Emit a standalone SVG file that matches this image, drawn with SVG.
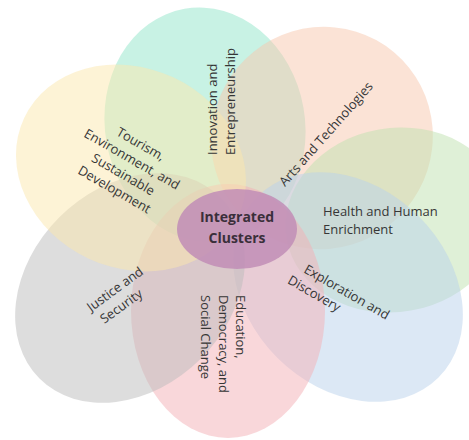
<svg xmlns="http://www.w3.org/2000/svg" width="469" height="440" viewBox="0 0 469 440">
<style>
.petal{opacity:0.5}
.lbl{font-family:"Open Sans","Liberation Sans",sans-serif;font-size:13px;fill:#363636}
.ctr{font-family:"Open Sans","Liberation Sans",sans-serif;font-size:14px;font-weight:bold;fill:#3a2f3a}
</style>
<rect width="469" height="440" fill="#ffffff"/>
<g id="petal-innovation"><ellipse class="petal" cx="205" cy="125" rx="100" ry="118" transform="rotate(-10 205 125)" fill="#92e6c9"/></g>
<g id="petal-arts"><ellipse class="petal" cx="322" cy="138" rx="110" ry="112" transform="rotate(40 322 138)" fill="#f8c8ad"/></g>
<g id="petal-health"><ellipse class="petal" cx="395" cy="220" rx="110" ry="92" transform="rotate(-10 395 220)" fill="#c0e1b0"/></g>
<g id="petal-exploration"><ellipse class="petal" cx="348" cy="287" rx="128" ry="100" transform="rotate(45 348 287)" fill="#bad1eb"/></g>
<g id="petal-education"><ellipse class="petal" cx="228" cy="311" rx="97" ry="127" fill="#f3afb5"/></g>
<g id="petal-justice"><ellipse class="petal" cx="130" cy="288" rx="128" ry="100" transform="rotate(-45 130 288)" fill="#bcbcbc"/></g>
<g id="petal-tourism"><ellipse class="petal" cx="131" cy="168" rx="118" ry="100" transform="rotate(25 131 168)" fill="#fbe7ad"/></g>
<g id="center"><ellipse cx="237" cy="229" rx="60" ry="40" fill="#c18db6" opacity="0.85"/>
<text class="ctr" x="237" y="222" text-anchor="middle">Integrated</text>
<text class="ctr" x="237" y="243" text-anchor="middle">Clusters</text></g>
<g id="label-innovation" transform="translate(221 155) rotate(-90)">
<text class="lbl" x="0" y="-4">Innovation and</text>
<text class="lbl" x="0" y="13.5">Entrepreneurship</text></g>
<g id="label-arts" transform="translate(326 134) rotate(-48.5)">
<text class="lbl" x="0" y="4.5" text-anchor="middle">Arts and Technologies</text></g>
<g id="label-health">
<text class="lbl" x="323" y="216">Health and Human</text>
<text class="lbl" x="323" y="233.5">Enrichment</text></g>
<g id="label-exploration" transform="translate(303 272) rotate(30)">
<text class="lbl" x="0" y="0">Exploration and</text>
<text class="lbl" x="-8.7" y="17.5">Discovery</text></g>
<g id="label-education" transform="translate(236 295) rotate(90)">
<text class="lbl" x="0" y="0">Education,</text>
<text class="lbl" x="0" y="17.5">Democracy, and</text>
<text class="lbl" x="0" y="35">Social Change</text></g>
<g id="label-justice" transform="translate(120 296) rotate(-36)">
<text class="lbl" x="0" y="-4" text-anchor="middle">Justice and</text>
<text class="lbl" x="-5" y="13.5" text-anchor="middle">Security</text></g>
<g id="label-tourism" transform="translate(127.5 167) rotate(30)">
<text class="lbl" x="0" y="-22" text-anchor="middle">Tourism,</text>
<text class="lbl" x="0" y="-4.5" text-anchor="middle">Environment, and</text>
<text class="lbl" x="0" y="13" text-anchor="middle">Sustainable</text>
<text class="lbl" x="0" y="30.5" text-anchor="middle">Development</text></g>
</svg>
